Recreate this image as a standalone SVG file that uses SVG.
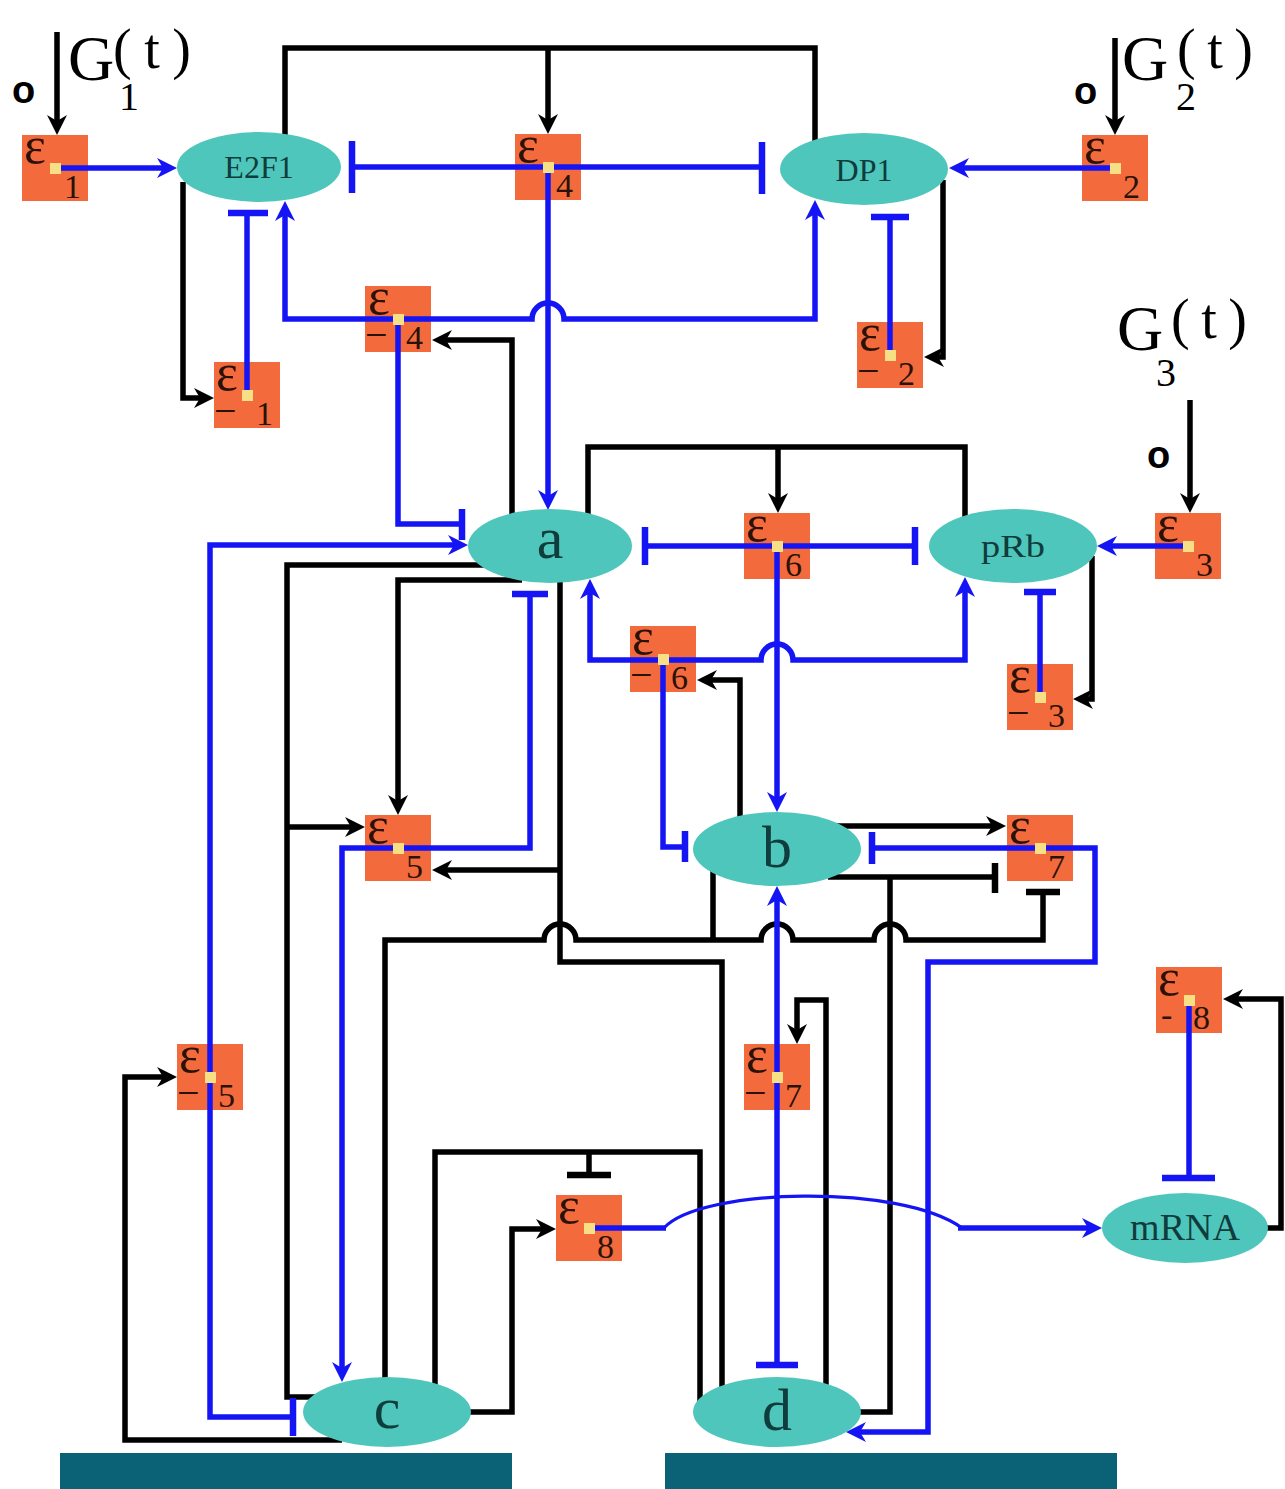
<svg xmlns="http://www.w3.org/2000/svg" width="1285" height="1489" viewBox="0 0 1285 1489">
<style>
.box{fill:#f36b3c}
.eps{font-family:"Liberation Serif",serif;font-size:52px;fill:#2b1208}
.sub{font-size:34px}
.mn{font-size:40px}
.yel{fill:#f7df86}
.ell{fill:#4fc6bb}
.lbl{font-family:"Liberation Serif",serif;fill:#0f3c3c;text-anchor:middle}
.k{fill:none;stroke:#000;stroke-width:5.5}
.b{fill:none;stroke:#1414f5;stroke-width:5.5}
.kb{fill:none;stroke:#000;stroke-width:6.5}
.bb{fill:none;stroke:#1414f5;stroke-width:6.5}
.thin{fill:none;stroke:#1414f5;stroke-width:3.2}
.gt{font-family:"Liberation Serif",serif;fill:#000}
.o{font-family:"Liberation Sans",sans-serif;font-weight:bold;font-size:38px;fill:#000}
.bar{fill:#0b6175}
</style>
<defs>
<marker id="ak" viewBox="0 0 20 20" refX="13" refY="10" markerWidth="20" markerHeight="20" markerUnits="userSpaceOnUse" orient="auto-start-reverse"><path d="M0,0 L20,10 L0,20 L6,10 z" fill="#000"/></marker>
<marker id="ab" viewBox="0 0 20 20" refX="13" refY="10" markerWidth="20" markerHeight="20" markerUnits="userSpaceOnUse" orient="auto-start-reverse"><path d="M0,0 L20,10 L0,20 L6,10 z" fill="#1414f5"/></marker>
</defs>
<rect width="1285" height="1489" fill="#fff"/>

<!-- base bars -->
<rect class="bar" x="60" y="1453" width="452" height="36"/>
<rect class="bar" x="665" y="1453" width="452" height="36"/>

<!-- input labels -->
<g id="G1">
<text class="o" x="12" y="103">o</text>
<text class="gt" font-size="64"><tspan x="68" y="80">G</tspan><tspan x="119" y="110" font-size="40">1</tspan></text>
<text class="gt" x="113" y="68" font-size="56" textLength="78" lengthAdjust="spacing">(t)</text>
</g>
<g id="G2">
<text class="o" x="1074" y="104">o</text>
<text class="gt" font-size="64"><tspan x="1122" y="80">G</tspan><tspan x="1176" y="110" font-size="40">2</tspan></text>
<text class="gt" x="1177" y="68" font-size="56" textLength="76" lengthAdjust="spacing">(t)</text>
</g>
<g id="G3">
<text class="o" x="1147" y="468">o</text>
<text class="gt" font-size="64"><tspan x="1117" y="350">G</tspan><tspan x="1156" y="386" font-size="40">3</tspan></text>
<text class="gt" x="1171" y="338" font-size="56" textLength="76" lengthAdjust="spacing">(t)</text>
</g>

<!-- epsilon boxes -->
<g id="eps1"><rect class="box" x="22" y="135" width="66" height="66"/><text class="eps"><tspan x="24" y="163">ε</tspan><tspan class="sub" x="64" y="198">1</tspan></text></g>
<g id="eps4"><rect class="box" x="515" y="134" width="66" height="66"/><text class="eps"><tspan x="517" y="162">ε</tspan><tspan class="sub" x="556" y="197">4</tspan></text></g>
<g id="eps2"><rect class="box" x="1082" y="135" width="66" height="66"/><text class="eps"><tspan x="1084" y="163">ε</tspan><tspan class="sub" x="1123" y="198">2</tspan></text></g>
<g id="epsm1"><rect class="box" x="214" y="362" width="66" height="66"/><text class="eps"><tspan x="216" y="390">ε</tspan><tspan class="mn" x="214" y="424">−</tspan><tspan class="sub" x="256" y="425">1</tspan></text></g>
<g id="epsm4"><rect class="box" x="365" y="286" width="66" height="66"/><text class="eps"><tspan x="368" y="314">ε</tspan><tspan class="mn" x="365" y="348">−</tspan><tspan class="sub" x="406" y="349">4</tspan></text></g>
<g id="epsm2"><rect class="box" x="857" y="322" width="66" height="66"/><text class="eps"><tspan x="859" y="350">ε</tspan><tspan class="mn" x="857" y="384">−</tspan><tspan class="sub" x="898" y="385">2</tspan></text></g>
<g id="eps6"><rect class="box" x="744" y="513" width="66" height="66"/><text class="eps"><tspan x="746" y="541">ε</tspan><tspan class="sub" x="785" y="576">6</tspan></text></g>
<g id="eps3"><rect class="box" x="1155" y="513" width="66" height="66"/><text class="eps"><tspan x="1157" y="541">ε</tspan><tspan class="sub" x="1196" y="576">3</tspan></text></g>
<g id="epsm6"><rect class="box" x="630" y="626" width="66" height="66"/><text class="eps"><tspan x="632" y="654">ε</tspan><tspan class="mn" x="630" y="688">−</tspan><tspan class="sub" x="671" y="689">6</tspan></text></g>
<g id="epsm3"><rect class="box" x="1007" y="664" width="66" height="66"/><text class="eps"><tspan x="1009" y="692">ε</tspan><tspan class="mn" x="1007" y="726">−</tspan><tspan class="sub" x="1048" y="727">3</tspan></text></g>
<g id="eps5"><rect class="box" x="365" y="815" width="66" height="66"/><text class="eps"><tspan x="367" y="843">ε</tspan><tspan class="sub" x="406" y="878">5</tspan></text></g>
<g id="eps7"><rect class="box" x="1007" y="815" width="66" height="66"/><text class="eps"><tspan x="1009" y="843">ε</tspan><tspan class="sub" x="1048" y="878">7</tspan></text></g>
<g id="epsm5"><rect class="box" x="177" y="1044" width="66" height="66"/><text class="eps"><tspan x="179" y="1072">ε</tspan><tspan class="mn" x="177" y="1106">−</tspan><tspan class="sub" x="218" y="1107">5</tspan></text></g>
<g id="epsm7"><rect class="box" x="744" y="1044" width="66" height="66"/><text class="eps"><tspan x="746" y="1072">ε</tspan><tspan class="mn" x="744" y="1106">−</tspan><tspan class="sub" x="785" y="1107">7</tspan></text></g>
<g id="eps8"><rect class="box" x="556" y="1195" width="66" height="66"/><text class="eps"><tspan x="558" y="1223">ε</tspan><tspan class="sub" x="597" y="1258">8</tspan></text></g>
<g id="epsm8"><rect class="box" x="1156" y="967" width="66" height="66"/><text class="eps"><tspan x="1158" y="995">ε</tspan><tspan class="sub" x="1161" y="1026">-</tspan><tspan class="sub" x="1193" y="1029">8</tspan></text></g>

<!-- connectors -->
<g id="connectors">
<path class="k" d="M57,32 V128" marker-end="url(#ak)"/>
<path class="k" d="M1115,38 V128" marker-end="url(#ak)"/>
<path class="k" d="M1190,400 V506" marker-end="url(#ak)"/>
<path class="k" d="M285,140 V48 H815 V145"/>
<path class="k" d="M548,48 V127" marker-end="url(#ak)"/>
<path class="k" d="M183,182 V398 H207" marker-end="url(#ak)"/>
<path class="k" d="M943,180 V357 H931" marker-end="url(#ak)"/>
<path class="k" d="M512,518 V340 H439" marker-end="url(#ak)"/>
<path class="k" d="M588,518 V447 H965 V520"/>
<path class="k" d="M778,447 V506" marker-end="url(#ak)"/>
<path class="k" d="M740,820 V680 H704" marker-end="url(#ak)"/>
<path class="k" d="M1092,556 V699 H1080" marker-end="url(#ak)"/>
<path class="k" d="M484,565 H287 V1397 H316"/>
<path class="k" d="M287,827 H358" marker-end="url(#ak)"/>
<path class="k" d="M522,580 H398 V808" marker-end="url(#ak)"/>
<path class="k" d="M560,578 V962 H722 V1392"/>
<path class="k" d="M560,870 H439" marker-end="url(#ak)"/>
<path class="k" d="M385,1382 V940 H544 A16,16 0 0 1 576,940 H761 A16,16 0 0 1 793,940 H874 A16,16 0 0 1 906,940 H1043 V894"/>
<path class="kb" d="M1026,892 H1060"/>
<path class="k" d="M713,868 V940"/>
<path class="k" d="M834,826 H999" marker-end="url(#ak)"/>
<path class="k" d="M828,877 H995"/>
<path class="kb" d="M995,863 V893"/>
<path class="k" d="M890,877 V1412 H852"/>
<path class="k" d="M826,1390 V1000 H797 V1037" marker-end="url(#ak)"/>
<path class="k" d="M466,1412 H512 V1229 H549" marker-end="url(#ak)"/>
<path class="k" d="M435,1388 V1152 H700 V1404"/>
<path class="k" d="M589,1152 V1175"/>
<path class="kb" d="M567,1175 H611"/>
<path class="k" d="M342,1440 H125 V1077 H170" marker-end="url(#ak)"/>
<path class="k" d="M1264,1228 H1281 V999 H1230" marker-end="url(#ak)"/>

<path class="b" d="M55,168 H170" marker-end="url(#ab)"/>
<path class="b" d="M352,167 H762"/>
<path class="bb" d="M352,141 V193"/>
<path class="bb" d="M762,142 V194"/>
<path class="b" d="M548,167 V503" marker-end="url(#ab)"/>
<path class="b" d="M285,208 V319 H532 A16,16 0 0 1 564,319 H815 V207" marker-start="url(#ab)" marker-end="url(#ab)"/>
<path class="b" d="M398,319 V524 H462"/>
<path class="bb" d="M462,509 V540"/>
<path class="b" d="M1115,168 H956" marker-end="url(#ab)"/>
<path class="b" d="M247,395 V213"/>
<path class="bb" d="M228,213 H268"/>
<path class="b" d="M890,355 V217"/>
<path class="bb" d="M871,217 H909"/>
<path class="b" d="M645,546 H915"/>
<path class="bb" d="M645,527 V565"/>
<path class="bb" d="M915,527 V565"/>
<path class="b" d="M777,546 V805" marker-end="url(#ab)"/>
<path class="b" d="M590,586 V660 H761 A16,16 0 0 1 793,660 H965 V584" marker-start="url(#ab)" marker-end="url(#ab)"/>
<path class="b" d="M663,660 V847 H685"/>
<path class="bb" d="M685,831 V862"/>
<path class="b" d="M1040,697 V592"/>
<path class="bb" d="M1024,592 H1056"/>
<path class="b" d="M1188,546 H1104" marker-end="url(#ab)"/>
<path class="b" d="M293,1417 H210 V545 H461" marker-end="url(#ab)"/>
<path class="bb" d="M293,1398 V1436"/>
<path class="b" d="M530,594 V848 H342 V1375" marker-end="url(#ab)"/>
<path class="bb" d="M512,594 H548"/>
<path class="b" d="M872,848 H1095 V962 H928 V1432 H853" marker-end="url(#ab)"/>
<path class="bb" d="M872,832 V864"/>
<path class="b" d="M777,1365 V893" marker-end="url(#ab)"/>
<path class="bb" d="M756,1365 H798"/>
<path class="b" d="M589,1228 H666"/>
<path class="thin" d="M664,1228 C700,1188 900,1183 962,1228"/>
<path class="b" d="M958,1228 H1095" marker-end="url(#ab)"/>
<path class="b" d="M1189,1000 V1178"/>
<path class="bb" d="M1162,1178 H1215"/>
</g>

<!-- ellipse nodes -->
<g id="E2F1"><ellipse class="ell" cx="259" cy="167" rx="82" ry="35"/><text class="lbl" x="259" y="178" font-size="32">E2F1</text></g>
<g id="DP1"><ellipse class="ell" cx="864" cy="169" rx="84" ry="36"/><text class="lbl" x="864" y="181" font-size="32">DP1</text></g>
<g id="a"><ellipse class="ell" cx="550" cy="546" rx="82" ry="37"/><text class="lbl" x="550" y="558" font-size="60">a</text></g>
<g id="pRb"><ellipse class="ell" cx="1013" cy="546" rx="84" ry="37"/><text class="lbl" x="1013" y="557" font-size="32" textLength="64" lengthAdjust="spacingAndGlyphs">pRb</text></g>
<g id="b"><ellipse class="ell" cx="777" cy="849" rx="84" ry="37"/><text class="lbl" x="777" y="867" font-size="60">b</text></g>
<g id="c"><ellipse class="ell" cx="387" cy="1412" rx="84" ry="35"/><text class="lbl" x="387" y="1428" font-size="60">c</text></g>
<g id="d"><ellipse class="ell" cx="777" cy="1412" rx="84" ry="35"/><text class="lbl" x="777" y="1430" font-size="60">d</text></g>
<g id="mRNA"><ellipse class="ell" cx="1185" cy="1228" rx="83" ry="35"/><text class="lbl" x="1185" y="1240" font-size="38">mRNA</text></g>

<!-- junction squares inside epsilon boxes -->
<g id="junctions">
<rect class="yel" x="50" y="163" width="11" height="11"/>
<rect class="yel" x="543" y="162" width="11" height="11"/>
<rect class="yel" x="1110" y="163" width="11" height="11"/>
<rect class="yel" x="242" y="390" width="11" height="11"/>
<rect class="yel" x="393" y="314" width="11" height="11"/>
<rect class="yel" x="885" y="350" width="11" height="11"/>
<rect class="yel" x="772" y="541" width="11" height="11"/>
<rect class="yel" x="1183" y="541" width="11" height="11"/>
<rect class="yel" x="658" y="654" width="11" height="11"/>
<rect class="yel" x="1035" y="692" width="11" height="11"/>
<rect class="yel" x="393" y="843" width="11" height="11"/>
<rect class="yel" x="1035" y="843" width="11" height="11"/>
<rect class="yel" x="205" y="1072" width="11" height="11"/>
<rect class="yel" x="772" y="1072" width="11" height="11"/>
<rect class="yel" x="584" y="1223" width="11" height="11"/>
<rect class="yel" x="1184" y="995" width="11" height="11"/>
</g>
</svg>
